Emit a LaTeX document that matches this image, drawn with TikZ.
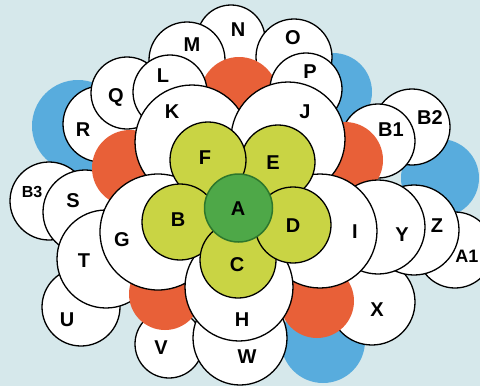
\documentclass[tikz,border=0pt]{standalone}
\usepackage{fontspec}
\setmainfont{Liberation Sans}
\definecolor{bgc}{RGB}{214,232,235}
\definecolor{bluec}{RGB}{88,172,221}
\definecolor{orangec}{RGB}{232,96,56}
\definecolor{petalc}{RGB}{201,212,68}
\definecolor{centc}{RGB}{78,168,72}
\definecolor{centline}{RGB}{45,118,44}
\newcommand\bub[8]{\node[#1, minimum size=#5pt] (#2) at (#3,#4) {};\node[lbl] (#2t) at (#6,#7) {#8};}
\newcommand\blob[5]{\node[#1, minimum size=#5pt] (#2) at (#3,#4) {};}
\begin{document}
\begin{tikzpicture}[x=1pt,y=-1pt,
  base/.style={circle, inner sep=0pt, outer sep=0pt},
  wc/.style={base, draw=black, line width=1.3pt, fill=white},
  bc/.style={base, fill=bluec},
  oc/.style={base, fill=orangec},
  pc/.style={base, draw=black, line width=1.3pt, fill=petalc},
  ac/.style={base, draw=centline, line width=1.5pt, fill=centc},
  lbl/.style={inner sep=0pt, font=\bfseries\fontsize{20}{20}\selectfont},
  slbl/.style={inner sep=0pt, font=\bfseries\fontsize{16}{16}\selectfont}]
\fill[bgc] (0,0) rectangle (480,386);
\useasboundingbox (0,0) rectangle (480,386);
% blue
\blob{bc}{bl1}{78}{126}{92}
\blob{bc}{bl2}{333}{92}{78}
\blob{bc}{bl3}{440}{178}{78}
\blob{bc}{bl4}{323}{341}{84}
% outer whites
\bub{wc}{N}{231}{39}{68}{238}{30}{N}
\bub{wc}{M}{187}{60}{76}{192}{45}{M}
\bub{wc}{O}{294}{57}{76}{293}{38}{O}
\bub{wc}{B2}{412}{127}{76}{430}{118}{B2}
\bub{wc}{B1}{378}{141}{74}{391}{130}{B1}
\bub{wc}{R}{101}{124}{76}{83}{130}{R}
\bub{wc}{Q}{127}{93}{72}{116}{97}{Q}
\node[wc, minimum size=78pt] (B3) at (49,201) {};
\node[slbl] (B3t) at (32,192) {B3};
\bub{wc}{S}{85}{212}{84}{73}{201}{S}
\bub{wc}{U}{81}{307}{78}{67}{320}{U}
\bub{wc}{T}{106}{259}{98}{84}{261}{T}
\bub{wc}{V}{169}{344}{68}{161}{348}{V}
\bub{wc}{W}{240}{338}{94}{247}{357}{W}
\bub{wc}{X}{372}{302}{86}{377}{310}{X}
\node[wc, minimum size=76pt] (A1) at (455,250) {};
\node[lbl, font=\bfseries\fontsize{18}{18}\selectfont] (A1t) at (467,256) {A1};
\bub{wc}{Z}{414}{230}{90}{437}{226}{Z}
% orange
\blob{oc}{o1}{239}{96}{78}
\blob{oc}{o2}{130}{168}{76}
\blob{oc}{o3}{165}{294}{72}
\blob{oc}{o4}{317}{301}{74}
\blob{oc}{o5}{345}{160}{76}
% second layer
\bub{wc}{L}{170}{92}{74}{163}{76}{L}
\bub{wc}{P}{306}{89}{72}{310}{72}{P}
\bub{wc}{Y}{378}{227}{94}{402}{235}{Y}
% middle ring
\bub{wc}{K}{192}{142}{114}{172}{112}{K}
\bub{wc}{J}{288}{139}{114}{305}{112}{J}
\bub{wc}{I}{320}{231}{114}{355}{232}{I}
\bub{wc}{G}{158}{232}{116}{122}{240}{G}
\bub{wc}{H}{239}{287}{108}{242}{320}{H}
% petals
\bub{pc}{E}{278}{162}{74}{273}{163}{E}
\bub{pc}{F}{208}{160}{76}{205}{158}{F}
\bub{pc}{B}{180}{222}{76}{178}{220}{B}
\bub{pc}{C}{238}{260}{76}{237}{265}{C}
\bub{pc}{D}{293}{225}{76}{293}{226}{D}
% centre
\bub{ac}{A}{238.5}{208}{68}{238}{209}{A}
\end{tikzpicture}
\end{document}
